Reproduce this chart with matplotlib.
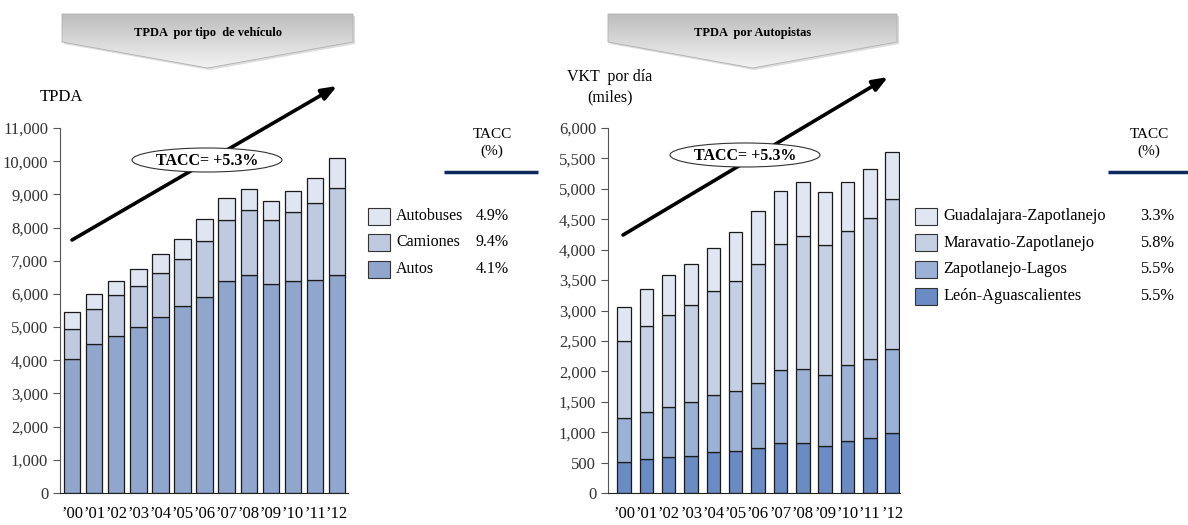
import numpy as np
import matplotlib.pyplot as plt
from matplotlib.patches import Polygon, Rectangle, Ellipse
from matplotlib.ticker import FuncFormatter

plt.rcParams['font.family'] = ['Liberation Serif', 'DejaVu Serif']

years = ["’00", "’01", "’02", "’03", "’04", "’05", "’06", "’07", "’08", "’09", "’10", "’11", "’12"]

# TPDA por tipo de vehiculo
autos = [4050, 4480, 4730, 5000, 5300, 5630, 5900, 6400, 6580, 6300, 6400, 6430, 6580]
camiones = [890, 1070, 1230, 1230, 1320, 1420, 1680, 1820, 1940, 1920, 2080, 2320, 2600]
autobuses = [510, 450, 440, 520, 580, 600, 670, 680, 630, 580, 620, 750, 920]
veh_names = ["Autobuses", "Camiones", "Autos"]
veh_tacc = ["4.9%", "9.4%", "4.1%"]

# VKT por dia (miles) por autopista
leon_ags = [510, 560, 590, 610, 670, 690, 740, 830, 830, 770, 850, 910, 980]
zap_lagos = [730, 770, 820, 880, 940, 990, 1070, 1190, 1210, 1170, 1250, 1300, 1380]
mar_zap = [1260, 1420, 1520, 1600, 1710, 1810, 1950, 2070, 2190, 2140, 2200, 2310, 2480]
gdl_zap = [560, 600, 650, 670, 700, 800, 870, 880, 890, 860, 820, 800, 770]
hwy_names = ["Guadalajara-Zapotlanejo", "Maravatio-Zapotlanejo", "Zapotlanejo-Lagos", "León-Aguascalientes"]
hwy_tacc = ["3.3%", "5.8%", "5.5%", "5.5%"]

veh_colors = ["#dfe5f1", "#bfcae1", "#90a6cd"]
hwy_colors = ["#e0e6f2", "#c5d0e5", "#9cb1d6", "#6a8bc3"]

W, H = 1188, 525
fig = plt.figure(figsize=(W / 100, H / 100), dpi=100)


def box(x0, x1, y_top, y_bot):
    return [x0 / W, 1 - y_bot / H, (x1 - x0) / W, (y_bot - y_top) / H]


def style_axis(ax, ymax, step):
    ax.set_ylim(0, ymax)
    ax.set_yticks(np.arange(0, ymax + 1, step))
    ax.yaxis.set_major_formatter(FuncFormatter(lambda v, p: f"{int(v):,}"))
    for s in ["top", "right"]:
        ax.spines[s].set_visible(False)
    ax.spines["left"].set_color("#555555")
    ax.spines["bottom"].set_color("#222222")
    ax.tick_params(axis="y", labelsize=12, length=5, color="#555555", labelcolor="#333333")
    ax.tick_params(axis="x", labelsize=12, length=0, pad=9)
    ax.set_facecolor("none")


x = np.arange(len(years))

# left chart
ax1 = fig.add_axes(box(60, 348, 128, 493))
bottom = np.zeros(len(years))
for vals, col in zip([autos, camiones, autobuses], veh_colors[::-1]):
    ax1.bar(x, vals, width=0.74, bottom=bottom, color=col, edgecolor="#1a1a1a", linewidth=0.9)
    bottom += np.array(vals)
ax1.set_xlim(-0.55, 12.5)
ax1.set_xticks(x)
ax1.set_xticklabels(years)
style_axis(ax1, 11000, 1000)

# right chart
ax2 = fig.add_axes(box(608, 900, 128, 493))
bottom = np.zeros(len(years))
for vals, col in zip([leon_ags, zap_lagos, mar_zap, gdl_zap], hwy_colors[::-1]):
    ax2.bar(x, vals, width=0.6, bottom=bottom, color=col, edgecolor="#1a1a1a", linewidth=0.9)
    bottom += np.array(vals)
ax2.set_xlim(-0.72, 12.35)
ax2.set_xticks(x)
ax2.set_xticklabels(years)
style_axis(ax2, 6000, 500)

# overlay in pixel coordinates for banners, arrows and legends
ov = fig.add_axes([0, 0, 1, 1])
ov.axis("off")
ov.set_facecolor("none")


def banner(x0, x1, title):
    xm = (x0 + x1) / 2
    pts = [(x0, 14), (x1, 14), (x1, 42), (xm, 68), (x0, 42)]
    shadow = Polygon([(px + 2, py + 2) for px, py in pts], closed=True,
                     facecolor="#dcdcdc", edgecolor="none", zorder=1)
    ov.add_patch(shadow)
    poly = Polygon(pts, closed=True, facecolor="none", edgecolor="#b0b0b0", linewidth=0.6, zorder=3)
    ov.add_patch(poly)
    grad = np.linspace(0.74, 0.95, 100).reshape(-1, 1)
    im = ov.imshow(grad, cmap="gray", vmin=0, vmax=1, extent=[x0, x1, 68, 14],
                   aspect="auto", zorder=2)
    im.set_clip_path(poly)
    ov.text(xm, 33, title, ha="center", va="center", fontsize=9, fontweight="bold", zorder=4)


banner(62, 353, "TPDA  por tipo  de vehículo")
banner(608, 897, "TPDA  por Autopistas")
ov.set_xlim(0, W)
ov.set_ylim(H, 0)

# axis titles
ov.text(40, 97, "TPDA", ha="left", va="center", fontsize=12)
ov.text(610, 77, "VKT  por día", ha="center", va="center", fontsize=11.5)
ov.text(610, 97, "(miles)", ha="center", va="center", fontsize=11.5)

# growth arrows with ellipse labels
for (xs, ys, xe, ye), (ex, ey) in [((72, 240, 337, 86), (207, 160)),
                                    ((623, 235, 888, 77), (745, 155))]:
    ov.annotate("", xy=(xe, ye), xytext=(xs, ys),
                arrowprops=dict(arrowstyle="-|>,head_length=0.9,head_width=0.35",
                                color="black", lw=2.6, shrinkA=0, shrinkB=0), zorder=5)
    ov.add_patch(Ellipse((ex, ey), 150, 24, facecolor="white", edgecolor="#333333",
                         linewidth=0.8, zorder=6))
    ov.text(ex, ey + 1, "TACC= +5.3%", ha="center", va="center", fontsize=11.5,
            fontweight="bold", zorder=7)

# TACC headers
for cx, lx0, lx1 in [(492, 444, 538), (1149, 1108, 1188)]:
    ov.text(cx, 143, "TACC\n(%)", ha="center", va="center", fontsize=11, linespacing=1.25)
    ov.plot([lx0, lx1], [172, 172], color="#0d2a5e", lw=2.5, solid_capstyle="butt")

# legends
for i, (name, rate, col) in enumerate(zip(veh_names, veh_tacc, veh_colors)):
    y = 216 + i * 26.5
    ov.add_patch(Rectangle((368, y - 8.5), 22, 17, facecolor=col, edgecolor="#333333", lw=0.8))
    ov.text(396, y, name, ha="left", va="center", fontsize=11.5)
    ov.text(509, y, rate, ha="right", va="center", fontsize=11.5)

for i, (name, rate, col) in enumerate(zip(hwy_names, hwy_tacc, hwy_colors)):
    y = 216 + i * 26.7
    ov.add_patch(Rectangle((915, y - 8.5), 22, 17, facecolor=col, edgecolor="#333333", lw=0.8))
    ov.text(943, y, name, ha="left", va="center", fontsize=11.8)
    ov.text(1174, y, rate, ha="right", va="center", fontsize=11.8)

fig.savefig("out.png", dpi=100)
